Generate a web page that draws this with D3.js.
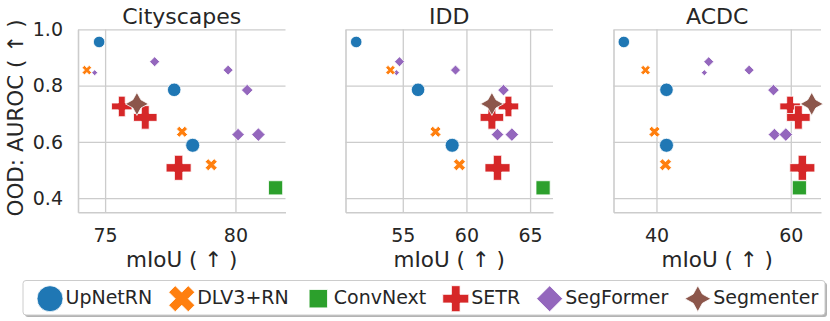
<!DOCTYPE html>
<html>
<head>
<meta charset="utf-8">
<script src="https://cdn.jsdelivr.net/npm/d3@7"></script>
<style>
  html, body { margin: 0; padding: 0; background: #fff; }
  svg { display: block; font-family: "DejaVu Sans", sans-serif; }
</style>
</head>
<body>
<svg id="chart" width="830" height="321"></svg>
<script>
(function () {
  'use strict';

  const W = 830;
  const H = 321;

  // models, in legend order
  const models = ['UpNetRN', 'DLV3+RN', 'ConvNext', 'SETR', 'SegFormer', 'Segmenter'];
  const colors = ['#1f77b4', '#ff7f0e', '#2ca02c', '#d62728', '#9467bd', '#8c564b'];
  const shapes = ['circle', 'x', 'square', 'plus', 'diamond', 'star'];

  // OOD AUROC per model variant (same for every dataset)
  const auroc = [
    [0.955, 0.785, 0.588],
    [0.855, 0.636, 0.519],
    [0.437],
    [0.726, 0.687, 0.508],
    [0.846, 0.885, 0.855, 0.784, 0.626, 0.626],
    [0.735]
  ];

  // marker size per variant (px)
  const variantSize = [
    [11.5, 13.5, 14],
    [9.5, 11, 12],
    [20],
    [20.5, 23.5, 25],
    [6, 10, 10, 11.5, 12.5, 13.5],
    [23]
  ];

  const datasets = ['Cityscapes', 'IDD', 'ACDC'];

  const miouCityscapes = [
    [74.77, 77.65, 78.36],
    [74.3, 77.95, 79.07],
    [81.54],
    [75.64, 76.54, 77.82],
    [74.6, 76.9, 79.72, 80.45, 80.1, 80.88],
    [76.22]
  ];
  const miouIDD = [
    [51.34, 56.2, 58.88],
    [54.03, 57.57, 59.45],
    [66.02],
    [63.3, 62.0, 62.44],
    [54.5, 54.74, 59.14, 62.91, 62.44, 63.57],
    [62.0]
  ];
  const miouACDC = [
    [35.14, 41.49, 41.49],
    [38.37, 39.7, 41.34],
    [61.28],
    [59.9, 61.13, 61.72],
    [47.13, 47.78, 53.8, 57.42, 57.57, 59.26],
    [63.12]
  ];
  const miou = [miouCityscapes, miouIDD, miouACDC];

  const xDomains = [[73.96, 81.92], [50.5, 66.8], [33.6, 64.5]];
  const xTicks = [[75, 80], [55, 60, 65], [40, 60]];
  const yDomain = [0.35, 1.0];
  const yTicks = [0.4, 0.6, 0.8, 1.0];

  const TEXT = '#262626';
  const GRID = '#cccccc';

  const PANEL_LEFT = [78, 345.5, 613.5];
  const PANEL_W = 207.5;
  const TOP = 29.3;
  const BOTTOM = 212.3;

  // draw order: SegFormer sits under the rest
  const drawOrder = [4, 0, 1, 2, 3, 5];

  const svg = d3.select('#chart');

  function polyPath(pts, M) {
    return 'M' + pts.map(p => `${(p[0] * M).toFixed(2)},${(p[1] * M).toFixed(2)}`).join('L') + 'Z';
  }

  function shapePath(shape, M) {
    const r = M / 2;
    if (shape === 'circle') return d3.symbol(d3.symbolCircle, Math.PI * r * r)();
    if (shape === 'square') {
      const h = r / Math.SQRT2;
      return `M${-h},${-h}H${h}V${h}H${-h}Z`;
    }
    if (shape === 'diamond') return `M0,${-r}L${r},0L0,${r}L${-r},0Z`;
    if (shape === 'plus') {
      const pts = [[-1, -3], [1, -3], [1, -1], [3, -1], [3, 1], [1, 1], [1, 3], [-1, 3], [-1, 1], [-3, 1], [-3, -1], [-1, -1]]
        .map(p => [p[0] / 6, p[1] / 6]);
      return polyPath(pts, M);
    }
    if (shape === 'x') {
      const pts = [[-1, -2], [0, -1], [1, -2], [2, -1], [1, 0], [2, 1], [1, 2], [0, 1], [-1, 2], [-2, 1], [-1, 0], [-2, -1]]
        .map(p => [p[0] / 4, p[1] / 4]);
      return polyPath(pts, M);
    }
    // 4-point star, inner radius half the outer one
    const pts = [];
    for (let k = 0; k < 8; k++) {
      const a = -Math.PI / 2 + k * Math.PI / 4;
      const rad = k % 2 === 0 ? 0.5 : 0.25;
      pts.push([rad * Math.cos(a), rad * Math.sin(a)]);
    }
    return polyPath(pts, M);
  }

  const y = d3.scaleLinear().domain(yDomain).range([BOTTOM, TOP]);

  datasets.forEach((name, i) => {
    const left = PANEL_LEFT[i];
    const x = d3.scaleLinear().domain(xDomains[i]).range([left, left + PANEL_W]);
    const g = svg.append('g');

    // y grid + left spine
    const yAxis = d3.axisLeft(y)
      .tickValues(yTicks)
      .tickSizeInner(-PANEL_W)
      .tickSizeOuter(0)
      .tickPadding(15)
      .tickFormat(i === 0 ? d3.format('.1f') : () => '');
    const gy = g.append('g').attr('transform', `translate(${left},0)`).call(yAxis);

    // x grid + bottom spine
    const xAxis = d3.axisBottom(x)
      .tickValues(xTicks[i])
      .tickSizeInner(-(BOTTOM - TOP))
      .tickSizeOuter(0)
      .tickPadding(16)
      .tickFormat(d3.format('d'));
    const gx = g.append('g').attr('transform', `translate(0,${BOTTOM})`).call(xAxis);

    [gx, gy].forEach(ax => {
      ax.select('.domain').attr('stroke', GRID).attr('stroke-width', 1.6);
      ax.selectAll('.tick line').attr('stroke', GRID).attr('stroke-width', 1.3);
      ax.selectAll('.tick text')
        .attr('fill', TEXT)
        .style('font-size', '19px')
        .style('font-family', '"DejaVu Sans", sans-serif');
    });

    // title
    g.append('text')
      .attr('x', left + PANEL_W / 2)
      .attr('y', 23.5)
      .attr('text-anchor', 'middle')
      .attr('fill', TEXT)
      .style('font-size', '22px')
      .text(name);

    // x label
    g.append('text')
      .attr('x', left + PANEL_W / 2)
      .attr('y', 266.5)
      .attr('text-anchor', 'middle')
      .attr('fill', TEXT)
      .style('font-size', '21.5px')
      .text('mIoU ( ↑ )');

    // points
    const pts = [];
    drawOrder.forEach(m => {
      miou[i][m].forEach((v, j) => {
        pts.push({ m, x: v, y: auroc[m][j], s: variantSize[m][j] });
      });
    });

    g.append('g').selectAll('path')
      .data(pts)
      .join('path')
      .attr('transform', d => `translate(${x(d.x)},${y(d.y)})`)
      .attr('d', d => shapePath(shapes[d.m], d.s))
      .attr('fill', d => colors[d.m])
      .attr('stroke', '#fff')
      .attr('stroke-width', 0.8);
  });

  // y label
  svg.append('text')
    .attr('transform', `translate(22.5,118) rotate(-90)`)
    .attr('text-anchor', 'middle')
    .attr('fill', TEXT)
    .style('font-size', '21.5px')
    .text('OOD: AUROC ( ↑ )');

  // legend
  const LEG_X = 23;
  const LEG_Y = 280.5;
  const LEG_W = 802;
  const LEG_H = 34.5;
  const leg = svg.append('g');

  leg.append('rect')
    .attr('x', LEG_X + 2).attr('y', LEG_Y + 2)
    .attr('width', LEG_W).attr('height', LEG_H)
    .attr('rx', 3)
    .attr('fill', '#b3b3b3');

  leg.append('rect')
    .attr('x', LEG_X).attr('y', LEG_Y)
    .attr('width', LEG_W).attr('height', LEG_H)
    .attr('rx', 3)
    .attr('fill', '#fff')
    .attr('stroke', '#cccccc')
    .attr('stroke-width', 1);

  let cx = 50;
  models.forEach((name, m) => {
    leg.append('path')
      .attr('transform', `translate(${cx},298.7)`)
      .attr('d', shapePath(shapes[m], 26))
      .attr('fill', colors[m])
      .attr('stroke', '#fff')
      .attr('stroke-width', 0.8);
    const t = leg.append('text')
      .attr('x', cx + 15.5)
      .attr('y', 303.5)
      .attr('fill', TEXT)
      .style('font-size', '19px')
      .text(name);
    const w = t.node().getComputedTextLength();
    cx = cx + 15.5 + w + 29.5;
  });
})();
</script>
</body>
</html>
